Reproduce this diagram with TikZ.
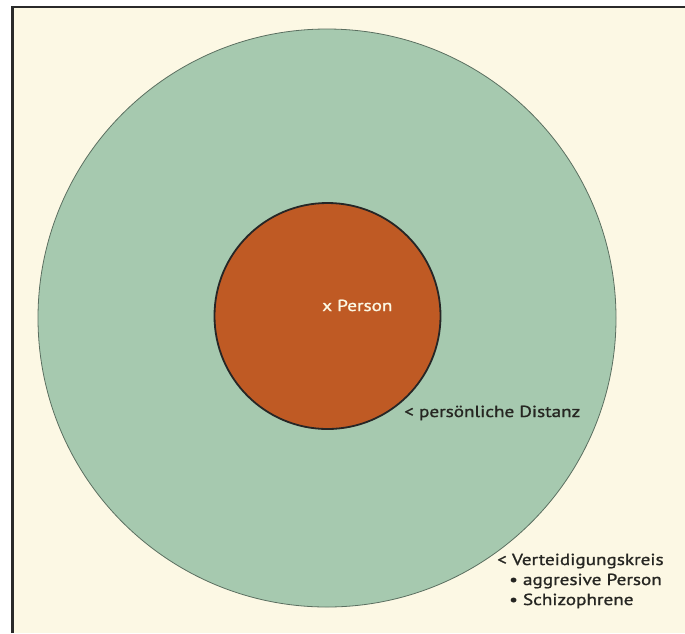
\documentclass[tikz,border=0pt]{standalone}
\usepackage{fontspec}
\setmainfont{PT Sans}
\newfontfamily\lblfont[FakeStretch=1.2,FakeBold=1.2]{PT Sans}
\definecolor{cream}{HTML}{FCF8E4}
\definecolor{outergreen}{HTML}{A6C9AF}
\definecolor{innerorange}{HTML}{BF5A24}
\definecolor{txt}{HTML}{262622}
\definecolor{frame}{HTML}{2A2A2A}
\tikzset{
  lbl/.style={font=\lblfont\fontsize{16}{18}\selectfont, text=txt, inner sep=0pt, anchor=base west},
}
\begin{document}
\begin{tikzpicture}[x=1pt,y=-1pt]
\useasboundingbox (0,0) rectangle (685,633);
\fill[white] (0,0) rectangle (685,633);
\fill[cream] (13,7) rectangle (685,633);
\draw[frame, line width=2.5pt] (12.5,633) -- (12.5,7) -- (685,7);
\node[circle, minimum size=578pt, fill=outergreen, draw=black!45!outergreen, line width=0.8pt, inner sep=0pt] (outer) at (327,318) {};
\node[circle, minimum size=226pt, fill=innerorange, draw=black!85, line width=1.8pt, inner sep=0pt] (inner) at (327.5,316) {};
\node[lbl, text=cream] (person) at (322,311) {x Person};
\node[lbl] (dist) at (404,417) {< persönliche Distanz};
\node[lbl] (vert) at (497,565) {< Verteidigungskreis};
\node[lbl] (aggr) at (509,585) {• aggresive Person};
\node[lbl] (schiz) at (509,605) {• Schizophrene};
\end{tikzpicture}
\end{document}
